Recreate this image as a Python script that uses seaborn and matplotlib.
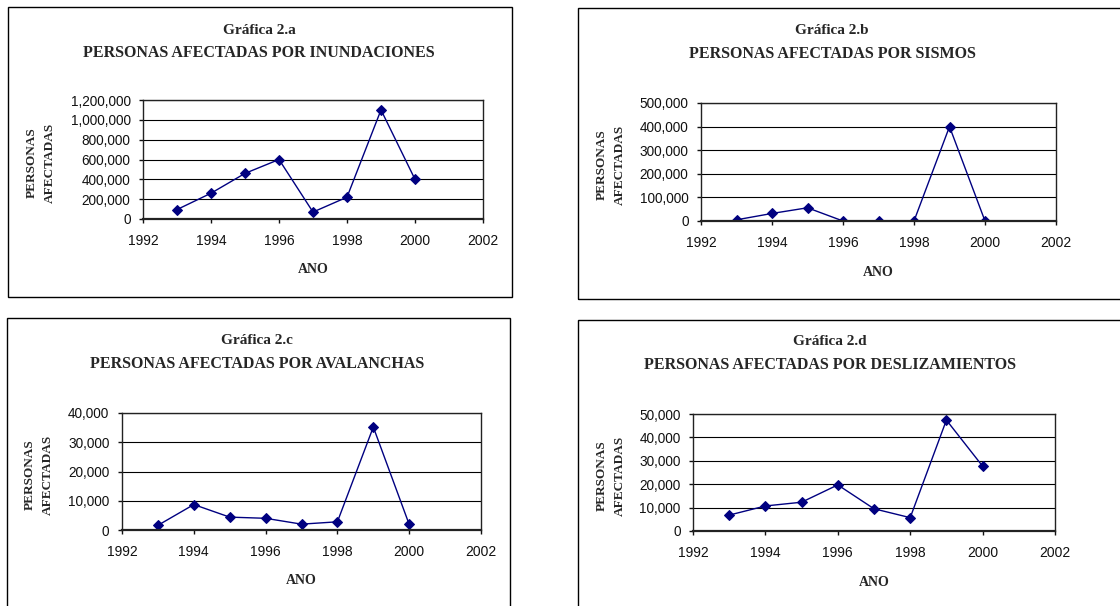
import numpy as np
import pandas as pd
import matplotlib.pyplot as plt
import matplotlib.ticker as mticker
from matplotlib.patches import Rectangle
import seaborn as sns

years = [1993, 1994, 1995, 1996, 1997, 1998, 1999, 2000]
inundaciones = [95000, 260000, 460000, 600000, 70000, 220000, 1100000, 400000]
sismos = [5000, 32000, 56000, 0, 0, 0, 400000, 0]
avalanchas = [1600, 8700, 4400, 4000, 2000, 2800, 35200, 1900]
deslizamientos = [6800, 10700, 12300, 19700, 9500, 5700, 47400, 27700]

panel_ids = ["Gráfica 2.a", "Gráfica 2.b", "Gráfica 2.c", "Gráfica 2.d"]
panel_titles = [
    "PERSONAS AFECTADAS POR INUNDACIONES",
    "PERSONAS AFECTADAS POR SISMOS",
    "PERSONAS AFECTADAS POR AVALANCHAS",
    "PERSONAS AFECTADAS POR DESLIZAMIENTOS",
]
y_max = [1200000, 500000, 40000, 50000]
y_step = [200000, 100000, 10000, 10000]
x_ticks = [1992, 1994, 1996, 1998, 2000, 2002]

sns.set_style("white")
plt.rcParams["font.family"] = ["Liberation Sans", "DejaVu Sans"]

W, H = 1120, 606
fig = plt.figure(figsize=(W / 100, H / 100), dpi=100)

# pixel layout: plot box (left, top, right, bottom), frame (l, t, r, b), title center x/y
layout = [
    dict(box=(143, 100, 483, 219), frame=(8, 7, 512, 297), tx=259, ty=30, yl=(32, 50)),
    dict(box=(701, 103, 1056, 221), frame=(578, 8, 1130, 299), tx=832, ty=31, yl=(602, 620)),
    dict(box=(122, 413, 481, 530), frame=(7, 318, 510, 620), tx=257, ty=341, yl=(30, 48)),
    dict(box=(693, 414, 1055, 531), frame=(578, 320, 1130, 620), tx=830, ty=342, yl=(602, 620)),
]

series = [inundaciones, sismos, avalanchas, deslizamientos]
serif_bold = dict(family="Liberation Serif", fontweight="bold")

for i, lay in enumerate(layout):
    l, t, r, b = lay["box"]
    ax = fig.add_axes([l / W, 1 - b / H, (r - l) / W, (b - t) / H])
    df = pd.DataFrame({"year": years, "value": series[i]})
    sns.lineplot(data=df, x="year", y="value", ax=ax, color="#000080",
                 marker="D", markersize=5.5, markeredgecolor="#000080",
                 linewidth=1.0)
    ax.set_xlim(1992, 2002)
    ax.set_ylim(0, y_max[i])
    ax.set_xticks(x_ticks)
    ax.set_yticks(np.arange(0, y_max[i] + 1, y_step[i]))
    ax.yaxis.set_major_formatter(mticker.FuncFormatter(lambda v, p: f"{int(v):,}"))
    ax.grid(axis="y", color="black", linewidth=0.8)
    ax.grid(axis="x", visible=False)
    ax.set_axisbelow(True)
    for sp in ax.spines.values():
        sp.set_color("#222222")
        sp.set_linewidth(1.0)
    ax.spines["bottom"].set_linewidth(1.6)
    ax.tick_params(axis="x", which="both", direction="out", length=3, width=1,
                   pad=8, labelsize=10, colors="#111111", bottom=True)
    ax.tick_params(axis="y", which="both", direction="out", length=3, width=1,
                   pad=6, labelsize=9.8, colors="#111111", left=True)
    ax.set_xlabel("")
    ax.set_ylabel("")

    # axis titles
    fig.text(((l + r) / 2) / W, 1 - (b + 51) / H, "ANO", ha="center", va="center",
             fontsize=10, **serif_bold)
    cy = 1 - ((t + b) / 2 + 3) / H
    fig.text(lay["yl"][0] / W, cy, "PERSONAS", rotation=90, ha="center", va="center",
             fontsize=9.5, **serif_bold)
    fig.text(lay["yl"][1] / W, cy, "AFECTADAS", rotation=90, ha="center", va="center",
             fontsize=9.5, **serif_bold)

    # chart titles
    fig.text(lay["tx"] / W, 1 - lay["ty"] / H, panel_ids[i], ha="center", va="center",
             fontsize=11, **serif_bold)
    fig.text(lay["tx"] / W, 1 - (lay["ty"] + 23) / H, panel_titles[i], ha="center",
             va="center", fontsize=11.5, **serif_bold)

    fl, ft, fr, fb = lay["frame"]
    fig.patches.append(Rectangle((fl / W, 1 - fb / H), (fr - fl) / W, (fb - ft) / H,
                                 transform=fig.transFigure, fill=False,
                                 edgecolor="black", linewidth=1.0, clip_on=False))

fig.savefig("out.png", dpi=100, facecolor="white")
